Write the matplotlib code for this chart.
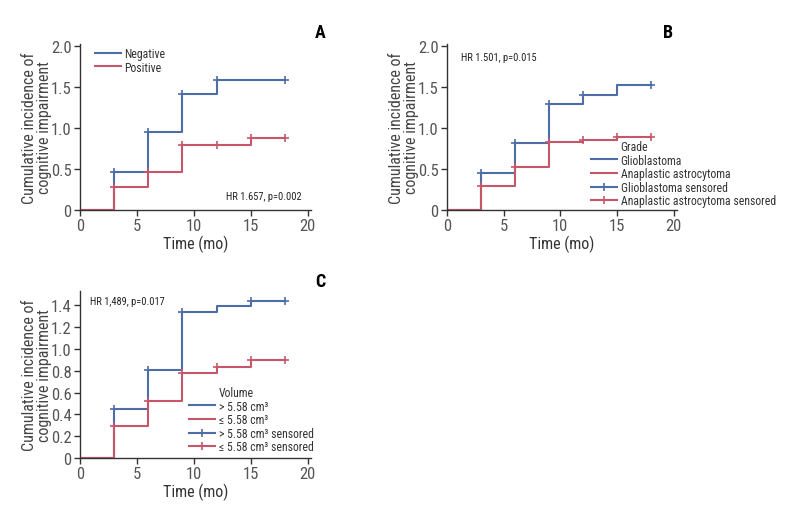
import numpy as np
from matplotlib import pyplot as plt
from matplotlib.lines import Line2D

plt.rcParams['font.family'] = ['Roboto Condensed', 'DejaVu Sans']

BLUE = '#4d6da6'
RED = '#c6566a'

# step times (months)
times = [0, 3, 6, 9, 12, 15, 18]

# Panel A: Negative / Positive
a_neg = [0, 0.47, 0.95, 1.42, 1.59, 1.59, 1.59]
a_pos = [0, 0.28, 0.47, 0.80, 0.80, 0.88, 0.88]
a_neg_cens = [3, 6, 9, 12, 18]
a_pos_cens = [3, 6, 9, 12, 15, 18]

# Panel B: Grade
b_glio = [0, 0.45, 0.82, 1.30, 1.41, 1.53, 1.53]
b_ana = [0, 0.29, 0.53, 0.83, 0.86, 0.89, 0.89]
b_glio_cens = [3, 6, 9, 12, 18]
b_ana_cens = [3, 6, 9, 12, 15, 18]

# Panel C: Volume
c_big = [0, 0.45, 0.81, 1.34, 1.39, 1.44, 1.44]
c_small = [0, 0.29, 0.52, 0.78, 0.83, 0.90, 0.90]
c_big_cens = [3, 6, 9, 15, 18]
c_small_cens = [3, 6, 9, 12, 15, 18]

W, H = 790, 506
fig = plt.figure(figsize=(W / 100, H / 100), dpi=100)


def px_axes(left, right, top, bottom):
    return fig.add_axes([left / W, 1 - bottom / H, (right - left) / W, (bottom - top) / H])


def px_text(x, y, s, **kw):
    return fig.text(x / W, 1 - y / H, s, **kw)


def draw_curve(ax, y, cens, color):
    ax.step(times, y, where='post', color=color, lw=1.5)
    cy = [y[times.index(t)] for t in cens]
    ax.plot(cens, cy, ls='none', marker='+', ms=6, mew=1.2, color=color)


def style(ax, ymax, yticks, ylabels):
    ax.set_xlim(0, 20.3)
    ax.set_ylim(0, ymax)
    ax.set_xticks([0, 5, 10, 15, 20])
    ax.set_yticks(yticks)
    ax.set_yticklabels(ylabels)
    for s in ['top', 'right']:
        ax.spines[s].set_visible(False)
    for s in ['left', 'bottom']:
        ax.spines[s].set_color('#333333')
        ax.spines[s].set_linewidth(1.0)
    ax.tick_params(direction='out', length=4, width=1, colors='#333333',
                   labelsize=12, labelcolor='#555555', pad=2)
    ax.set_xlabel('Time (mo)', fontsize=11.5, color='#333333', labelpad=1)
    ax.set_ylabel('Cumulative incidence of\ncognitive impairment', fontsize=11.5,
                  color='#444444', linespacing=1.0)
    ax.yaxis.set_label_coords(-0.12, 0.5)


def px_legend(ax, handles, labels, x, y):
    return ax.legend(handles=handles, labels=labels, loc='upper left',
                     bbox_to_anchor=(x / W, 1 - y / H), bbox_transform=fig.transFigure,
                     frameon=False, fontsize=8.5, handlelength=2.2, handletextpad=0.3,
                     labelspacing=0.05, borderpad=0, borderaxespad=0, labelcolor='#333333')


def solid(c):
    return Line2D([], [], color=c, lw=1.5)


def cens(c):
    return Line2D([], [], color=c, lw=1.5, marker='+', ms=6, mew=1.2)


blank = Line2D([], [], color='none')

ab_ticks = [0, 0.5, 1.0, 1.5, 2.0]
ab_labels = ['0', '0.5', '1.0', '1.5', '2.0']

# A
axA = px_axes(80, 311, 45, 211)
draw_curve(axA, a_neg, a_neg_cens, BLUE)
draw_curve(axA, a_pos, a_pos_cens, RED)
style(axA, 2.03, ab_ticks, ab_labels)
px_legend(axA, [solid(BLUE), solid(RED)], ['Negative', 'Positive'], 95, 48)
px_text(302, 197, 'HR 1.657, p=0.002', ha='right', va='center', fontsize=7.5, color='#222222')
px_text(320, 33, 'A', fontsize=13, fontweight='bold', ha='center', va='center')

# B
axB = px_axes(447, 677, 45, 211)
draw_curve(axB, b_glio, b_glio_cens, BLUE)
draw_curve(axB, b_ana, b_ana_cens, RED)
style(axB, 2.03, ab_ticks, ab_labels)
px_legend(axB, [blank, solid(BLUE), solid(RED), cens(BLUE), cens(RED)],
          ['Grade', 'Glioblastoma', 'Anaplastic astrocytoma',
           'Glioblastoma sensored', 'Anaplastic astrocytoma sensored'], 591, 141)
px_text(461, 58, 'HR 1.501, p=0.015', ha='left', va='center', fontsize=7.5, color='#222222')
px_text(668, 33, 'B', fontsize=13, fontweight='bold', ha='center', va='center')

# C
axC = px_axes(80, 311, 292, 459)
draw_curve(axC, c_big, c_big_cens, BLUE)
draw_curve(axC, c_small, c_small_cens, RED)
style(axC, 1.53, [0, 0.2, 0.4, 0.6, 0.8, 1.0, 1.2, 1.4],
      ['0', '0.2', '0.4', '0.6', '0.8', '1.0', '1.2', '1.4'])
px_legend(axC, [blank, solid(BLUE), solid(RED), cens(BLUE), cens(RED)],
          ['Volume', '> 5.58 cm³', '≤ 5.58 cm³', '> 5.58 cm³ sensored', '≤ 5.58 cm³ sensored'],
          189, 387)
px_text(90, 302, 'HR 1,489, p=0.017', ha='left', va='center', fontsize=7.5, color='#222222')
px_text(320, 282, 'C', fontsize=13, fontweight='bold', ha='center', va='center')

fig.savefig('out.png', dpi=100)
